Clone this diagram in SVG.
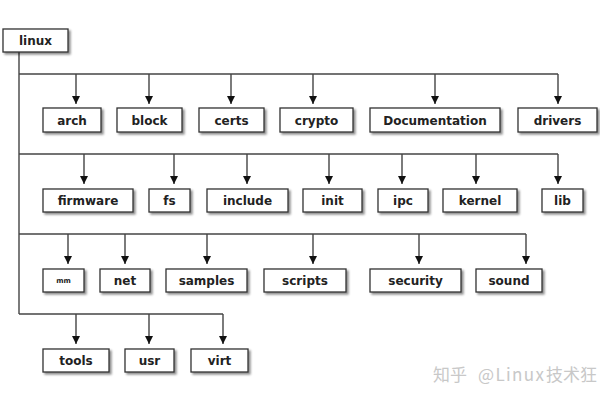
<svg xmlns="http://www.w3.org/2000/svg" width="600" height="400" viewBox="0 0 600 400">
<defs>
<marker id="ah" viewBox="0 0 10 10" refX="10" refY="5" markerWidth="8" markerHeight="8" markerUnits="userSpaceOnUse" orient="auto">
<path d="M0,0 L10,5 L0,10 z" fill="#111"/>
</marker>
<filter id="sh" x="-20%" y="-30%" width="140%" height="170%">
<feDropShadow dx="2" dy="2" stdDeviation="1.2" flood-color="#000" flood-opacity="0.45"/>
</filter>
<style>
.b rect{fill:#fff;stroke:#333;stroke-width:1.3;filter:url(#sh)}
.b text{font-family:"DejaVu Sans",sans-serif;font-weight:bold;font-size:12px;fill:#222;text-anchor:middle}
.c path{fill:none;stroke:#444;stroke-width:1.4}
.c .a{marker-end:url(#ah)}
.wm{font-family:"Noto Sans CJK SC","Noto Sans",sans-serif;font-size:17px;fill:#c8c8c8}
</style>
</defs>
<rect width="600" height="400" fill="#fff"/>
<g class="c" id="connectors">
<path d="M19,52 V314"/>
<path d="M19,74 H558"/>
<path d="M19,154 H558"/>
<path d="M19,234 H526"/>
<path d="M19,314 H223"/>
<path class="a" d="M76,74 V104"/>
<path class="a" d="M149,74 V104"/>
<path class="a" d="M231,74 V104"/>
<path class="a" d="M313,74 V104"/>
<path class="a" d="M435,74 V104"/>
<path class="a" d="M558,74 V104"/>
<path class="a" d="M84,154 V184"/>
<path class="a" d="M174,154 V184"/>
<path class="a" d="M247,154 V184"/>
<path class="a" d="M329,154 V184"/>
<path class="a" d="M402,154 V184"/>
<path class="a" d="M476,154 V184"/>
<path class="a" d="M558,154 V184"/>
<path class="a" d="M68,234 V264"/>
<path class="a" d="M125,234 V264"/>
<path class="a" d="M207,234 V264"/>
<path class="a" d="M313,234 V264"/>
<path class="a" d="M419,234 V264"/>
<path class="a" d="M526,234 V264"/>
<path class="a" d="M76,314 V344"/>
<path class="a" d="M149,314 V344"/>
<path class="a" d="M223,314 V344"/>
</g>
<g class="b" id="linux"><rect x="3" y="29" width="65" height="23"/><text x="35.5" y="45">linux</text></g>
<g class="b" id="arch"><rect x="43" y="108" width="58" height="24"/><text x="72" y="124.5">arch</text></g>
<g class="b" id="block"><rect x="117" y="108" width="65" height="24"/><text x="149.5" y="124.5">block</text></g>
<g class="b" id="certs"><rect x="199" y="108" width="65" height="24"/><text x="231.5" y="124.5">certs</text></g>
<g class="b" id="crypto"><rect x="280" y="108" width="73" height="24"/><text x="316.5" y="124.5">crypto</text></g>
<g class="b" id="documentation"><rect x="370" y="108" width="130" height="24"/><text x="435" y="124.5">Documentation</text></g>
<g class="b" id="drivers"><rect x="518" y="108" width="79" height="24"/><text x="557.5" y="124.5">drivers</text></g>
<g class="b" id="firmware"><rect x="43" y="189" width="90" height="23"/><text x="88" y="205">firmware</text></g>
<g class="b" id="fs"><rect x="149" y="189" width="41" height="23"/><text x="169.5" y="205">fs</text></g>
<g class="b" id="include"><rect x="207" y="189" width="81" height="23"/><text x="247.5" y="205">include</text></g>
<g class="b" id="init"><rect x="303" y="189" width="59" height="23"/><text x="332.5" y="205">init</text></g>
<g class="b" id="ipc"><rect x="378" y="189" width="50" height="23"/><text x="403" y="205">ipc</text></g>
<g class="b" id="kernel"><rect x="443" y="189" width="74" height="23"/><text x="480" y="205">kernel</text></g>
<g class="b" id="lib"><rect x="542" y="189" width="41" height="23"/><text x="562.5" y="205">lib</text></g>
<g class="b" id="mm"><rect x="43" y="269" width="41" height="23"/><text x="63.5" y="283" style="font-size:7px">mm</text></g>
<g class="b" id="net"><rect x="100" y="269" width="50" height="23"/><text x="125" y="285">net</text></g>
<g class="b" id="samples"><rect x="166" y="269" width="81" height="23"/><text x="206.5" y="285">samples</text></g>
<g class="b" id="scripts"><rect x="264" y="269" width="82" height="23"/><text x="305" y="285">scripts</text></g>
<g class="b" id="security"><rect x="370" y="269" width="91" height="23"/><text x="415.5" y="285">security</text></g>
<g class="b" id="sound"><rect x="476" y="269" width="66" height="23"/><text x="509" y="285">sound</text></g>
<g class="b" id="tools"><rect x="43" y="349" width="66" height="23"/><text x="76" y="365">tools</text></g>
<g class="b" id="usr"><rect x="125" y="349" width="49" height="23"/><text x="149.5" y="365">usr</text></g>
<g class="b" id="virt"><rect x="191" y="349" width="57" height="23"/><text x="219.5" y="365">virt</text></g>
<text class="wm" x="433" y="381">知乎 <tspan x="478" textLength="66" lengthAdjust="spacing">@Linux</tspan><tspan x="546">技术狂</tspan></text>
</svg>
